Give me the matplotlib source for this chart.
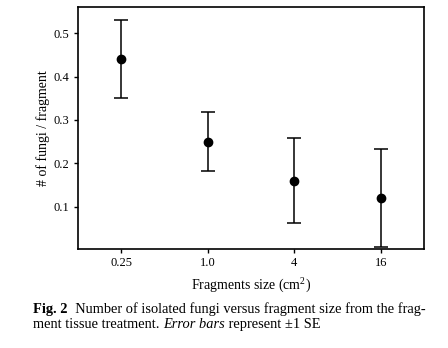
import matplotlib
matplotlib.use("Agg")
import matplotlib.pyplot as plt

categories = ["0.25", "1.0", "4", "16"]
means = [0.44, 0.25, 0.16, 0.12]
se = [0.089, 0.068, 0.098, 0.113]
yticks = [0.1, 0.2, 0.3, 0.4, 0.5]

plt.rcParams['font.family'] = ['Liberation Serif', 'DejaVu Serif']
plt.rcParams['mathtext.fontset'] = 'custom'
plt.rcParams['mathtext.rm'] = 'Liberation Serif'
fig = plt.figure(figsize=(4.48, 3.48), dpi=100)
ax = fig.add_axes([78/448, 1 - 249/348, (424-78)/448, (249-7)/348])
x = list(range(len(categories)))
ax.errorbar(x, means, yerr=se, fmt='o', color='black', ms=6, capsize=5, elinewidth=1.1, capthick=1.1)
ax.set_xlim(-0.5, len(categories) - 0.5)
ax.set_ylim(0.003, 0.56)
ax.set_xticks(x)
ax.set_xticklabels(categories)
ax.set_yticks(yticks)
ax.set_yticklabels([f"{v:.1f}" for v in yticks])
ax.tick_params(direction='out', length=3, width=1, labelsize=9, pad=3)
for s in ax.spines.values():
    s.set_linewidth(1.2)
ax.set_xlabel(r"Fragments size (cm$^{\mathrm{2}}$)", fontsize=10, labelpad=4)
ax.set_ylabel("# of fungi / fragment", fontsize=10, labelpad=3)

fig.canvas.draw()
r = fig.canvas.get_renderer()

def seq(parts, x0, y0, fs):
    xpx = x0
    for txt, kw in parts:
        t = fig.text(xpx/448, 1 - y0/348, txt, fontsize=fs, va='baseline', **kw)
        bb = t.get_window_extent(renderer=r)
        xpx += bb.width

fs = 10.4
seq([("Fig. 2", dict(fontweight='bold')),
     ("  Number of isolated fungi versus fragment size from the frag-", {})], 33, 313, fs)
seq([("ment tissue treatment. ", {}),
     ("Error bars", dict(style='italic')),
     (" represent \u00b11 SE", {})], 33, 328, fs)
fig.savefig("out.png", dpi=100)
